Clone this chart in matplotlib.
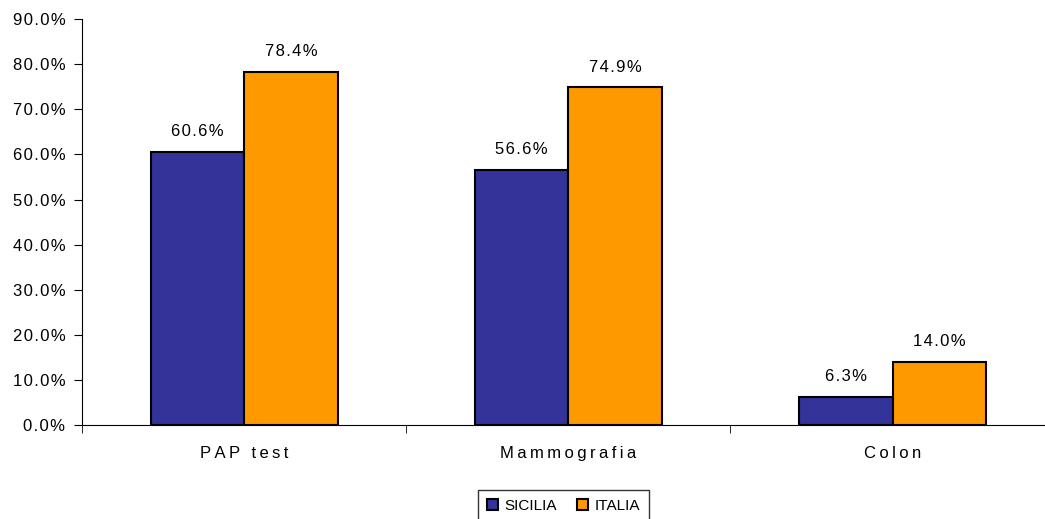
import matplotlib.pyplot as plt
import numpy as np
from matplotlib.ticker import FixedLocator, NullFormatter

plt.rcParams['font.family'] = ['Liberation Sans', 'DejaVu Sans']

categorie = ["PAP test", "Mammografia", "Colon"]
sicilia = [60.6, 56.6, 6.3]
italia = [78.4, 74.9, 14.0]


def spaziato(testo, sep="\u2009"):
    # lettere un po' distanziate
    return sep.join(testo)


x = np.arange(len(categorie))
w = 0.288

fig = plt.figure(figsize=(10.45, 5.19), dpi=100)
ax = fig.add_axes([0.0785, 0.181, 0.9215, 0.782])

b1 = ax.bar(x - w / 2, sicilia, w, color="#333399", edgecolor="black", linewidth=1.5, label="SICILIA")
b2 = ax.bar(x + w / 2, italia, w, color="#FF9900", edgecolor="black", linewidth=1.5, label="ITALIA")

for barre in (b1, b2):
    for b in barre:
        v = b.get_height()
        ax.annotate(spaziato(f"{v:.1f}%", "\u200a"), (b.get_x() + b.get_width() / 2, v),
                    xytext=(0, 9), textcoords="offset points",
                    ha="center", va="bottom", fontsize=12)

ax.set_ylim(0, 90)
ax.set_yticks(np.arange(0, 91, 10))
ax.set_yticklabels([spaziato(f"{t:.1f}%", "\u200a") for t in np.arange(0, 91, 10)], fontsize=12)
ax.set_xlim(-0.5, 2.47)

# etichette al centro, tacche tra le categorie
ax.set_xticks(x)
ax.set_xticklabels([spaziato(c) for c in categorie], fontsize=12)
ax.tick_params(axis="x", which="major", length=0, pad=15)
ax.xaxis.set_minor_locator(FixedLocator([-0.5, 0.5, 1.5]))
ax.xaxis.set_minor_formatter(NullFormatter())
ax.tick_params(axis="x", which="minor", length=6, direction="out")
ax.tick_params(axis="y", length=6, direction="out", pad=6)

for s in ("top", "right"):
    ax.spines[s].set_visible(False)

leg = ax.legend(loc="upper center", bbox_to_anchor=(0.5, -0.14), ncol=2,
                fontsize=11, frameon=True, fancybox=False, edgecolor="black",
                handlelength=0.75, handleheight=0.75, handletextpad=0.4,
                columnspacing=1.3, borderpad=0.6)
leg.get_frame().set_linewidth(1.0)

plt.savefig("out.png", dpi=100)
